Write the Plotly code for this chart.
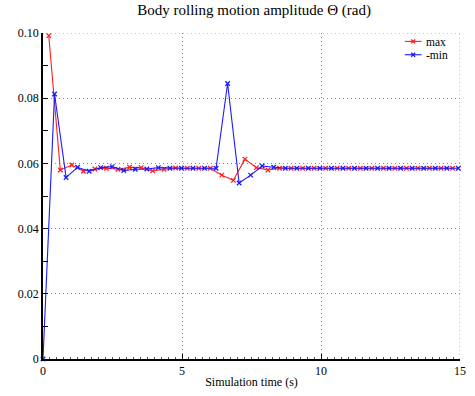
import plotly.graph_objects as go

# Sampling: each extremum series is sampled every half roll period,
# the maxima offset by a quarter of the full cycle from the minima.
half_period = 0.415

max_vals = [0.0992, 0.0580, 0.0595, 0.0576, 0.0583, 0.0585, 0.0582, 0.0588,
            0.0587, 0.0577, 0.0582, 0.0586, 0.0585, 0.0585, 0.0585, 0.0564,
            0.0548, 0.0613, 0.0587, 0.0580, 0.0585, 0.0585, 0.0585, 0.0585,
            0.0585, 0.0585, 0.0585, 0.0585, 0.0585, 0.0585, 0.0585, 0.0585,
            0.0585, 0.0585, 0.0585, 0.0585]
neg_min_vals = [0.0, 0.0813, 0.0557, 0.0588, 0.0576, 0.0587, 0.0590, 0.0578,
                0.0582, 0.0583, 0.0587, 0.0585, 0.0585, 0.0585, 0.0585, 0.0585,
                0.0845, 0.0540, 0.0564, 0.0592, 0.0588, 0.0585, 0.0585, 0.0585,
                0.0585, 0.0585, 0.0585, 0.0585, 0.0585, 0.0585, 0.0585, 0.0585,
                0.0585, 0.0585, 0.0585, 0.0585, 0.0585]
series_names = ["max", "-min"]

t_max = [half_period / 2 + half_period * k for k in range(len(max_vals))]
t_min = [half_period * k for k in range(len(neg_min_vals))]

y_tickvals = [0, 0.02, 0.04, 0.06, 0.08, 0.10]
y_ticktext = ["0", "0.02", "0.04", "0.06", "0.08", "0.10"]
x_tickvals = [0, 5, 10, 15]
x_range = [0, 15]
y_range = [0, 0.1]

serif = "Liberation Serif, Times New Roman, serif"
grid_color = "#8a8a8a"
grid_dash = "1px,3px"
red = "#ff2020"
blue = "#1a1aff"
colors = [red, blue]

W, H = 475, 396
M = dict(l=43, r=9, t=33, b=33)
plot_w = W - M["l"] - M["r"]
plot_h = H - M["t"] - M["b"]


def px_to_paper(px, py):
    return (px - M["l"]) / plot_w, (H - M["b"] - py) / plot_h


fig = go.Figure()
for name, xs, ys, c in [(series_names[0], t_max, max_vals, red),
                        (series_names[1], t_min, neg_min_vals, blue)]:
    fig.add_trace(go.Scatter(
        x=xs, y=ys, name=name, mode="lines+markers",
        line=dict(color=c, width=1.1),
        marker=dict(symbol="x-thin", size=4.5, line=dict(color=c, width=1.3)),
        cliponaxis=False, showlegend=False,
    ))

# dotted frame on the top and right edges, like the interior grid
fig.add_shape(type="line", xref="x", yref="y", x0=x_range[0], x1=x_range[1],
              y0=y_range[1], y1=y_range[1], layer="below",
              line=dict(color=grid_color, width=1, dash=grid_dash))
fig.add_shape(type="line", xref="x", yref="y", x0=x_range[1], x1=x_range[1],
              y0=y_range[0], y1=y_range[1], layer="below",
              line=dict(color=grid_color, width=1, dash=grid_dash))

# compact legend in the upper-right corner: line sample, cross marker, label
row_y = [41.5, 55.0]
line_x0, line_x1, text_x = 410, 427, 431
for i, (name, c) in enumerate(zip(series_names, colors)):
    xa, ya = px_to_paper(line_x0, row_y[i])
    xb, _ = px_to_paper(line_x1, row_y[i])
    fig.add_shape(type="line", xref="paper", yref="paper", x0=xa, x1=xb,
                  y0=ya, y1=ya, line=dict(color=c, width=1.1))
    cx = (line_x0 + line_x1) / 2
    for dx, dy in [(-2, -2), (-2, 2)]:
        p0 = px_to_paper(cx + dx, row_y[i] + dy)
        p1 = px_to_paper(cx - dx, row_y[i] - dy)
        fig.add_shape(type="line", xref="paper", yref="paper",
                      x0=p0[0], y0=p0[1], x1=p1[0], y1=p1[1],
                      line=dict(color=c, width=1.3))
    tx, ty = px_to_paper(text_x, row_y[i])
    fig.add_annotation(xref="paper", yref="paper", x=tx, y=ty, text=name,
                       showarrow=False, xanchor="left", yanchor="middle",
                       height=11, borderpad=0,
                       font=dict(family=serif, size=11.5, color="black"))

fig.update_layout(
    width=W, height=H,
    margin=M,
    paper_bgcolor="white", plot_bgcolor="white",
    font=dict(family=serif, size=12, color="black"),
    title=dict(text="Body rolling motion amplitude \u0398 (rad)",
               x=0.535, xanchor="center", y=0.975, yanchor="middle",
               font=dict(family=serif, size=15)),
    showlegend=False,
)
fig.update_xaxes(
    range=x_range, tickvals=x_tickvals, ticktext=[str(v) for v in x_tickvals],
    showline=True, linecolor="black", linewidth=1.5, mirror=False,
    ticks="inside", ticklen=5, tickcolor="black",
    showgrid=True, gridcolor=grid_color, griddash=grid_dash, gridwidth=1,
    zeroline=False,
    minor=dict(dtick=0.25, ticks="inside", ticklen=2, tickcolor="#555555", showgrid=False),
    title=dict(text="Simulation time (s)", standoff=0, font=dict(family=serif, size=12)),
)
fig.update_yaxes(
    range=y_range, tickvals=y_tickvals, ticktext=y_ticktext,
    showline=True, linecolor="black", linewidth=1.5, mirror=False,
    ticks="inside", ticklen=5, tickcolor="black",
    showgrid=True, gridcolor=grid_color, griddash=grid_dash, gridwidth=1,
    zeroline=False,
    minor=dict(dtick=0.01, ticks="inside", ticklen=5, tickcolor="black", showgrid=False),
)

fig.write_html("out.html")
